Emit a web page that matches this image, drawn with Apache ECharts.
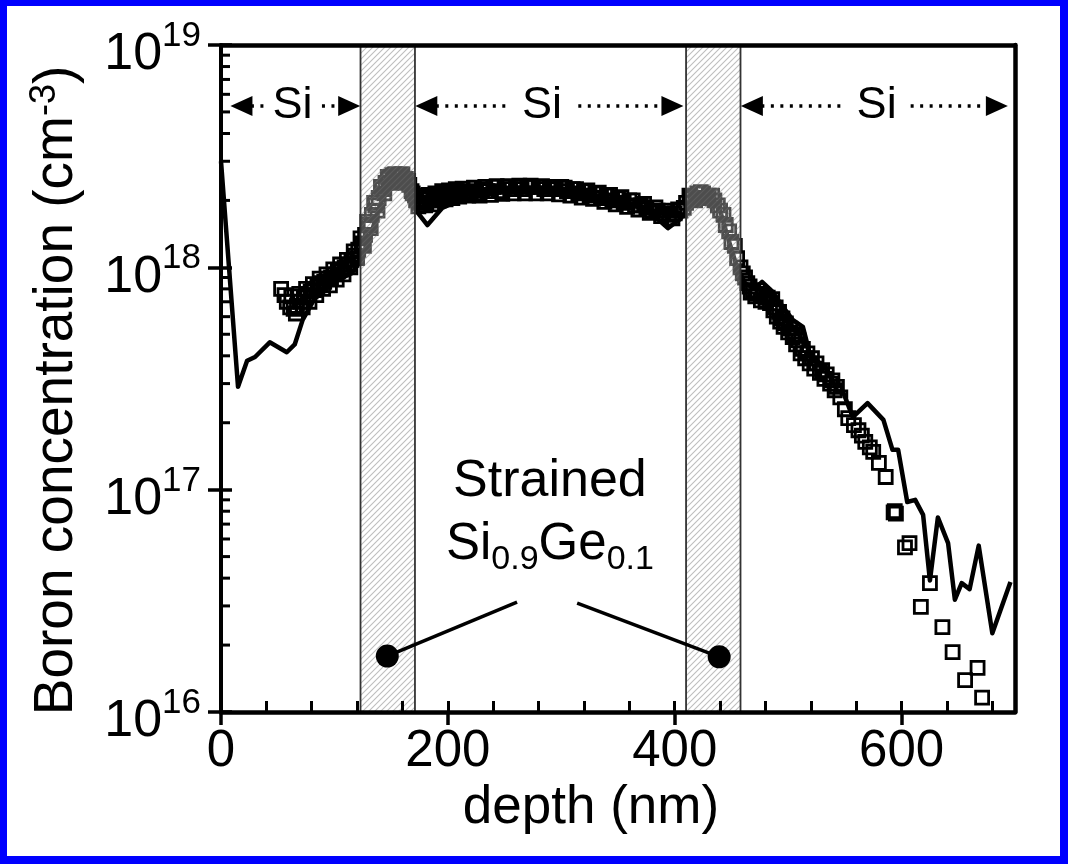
<!DOCTYPE html>
<html>
<head>
<meta charset="utf-8">
<script src="https://cdn.jsdelivr.net/npm/echarts@6/dist/echarts.min.js"></script>
<style>
html,body{margin:0;padding:0;width:1068px;height:864px;background:#0000ff;overflow:hidden;}
#paper{position:absolute;left:7px;top:6px;width:1053px;height:850px;background:#fff;}
#chart{position:absolute;left:0;top:0;width:1068px;height:864px;}
</style>
</head>
<body>
<div id="paper"></div>
<div id="chart"></div>
<script>
// ---------- data ----------
const xMajorTicks = [0, 200, 400, 600];
const xAllTicks = [0,40,80,120,160,200,240,280,320,360,400,440,480,520,560,600,640,680];
const yMinorTicks = [2e16,3e16,4e16,5e16,6e16,7e16,8e16,9e16,
                     2e17,3e17,4e17,5e17,6e17,7e17,8e17,9e17,
                     2e18,3e18,4e18,5e18,6e18,7e18,8e18,9e18];

// solid line (simulation)
const lineDepth = [0,15,23,30,43,58,65,72,83,98,115,122,130,140,150,158,165,172,182,195,210,230,250,270,290,310,330,350,370,385,394,405,415,425,432,440,448,455,462,470,477,486,493,504,513,519,534,543,549,557,570,584,592,597,605,612,619,625,632,641,647,653,660,668,680,696];
const lineConc  = [3.0e18,2.9e17,3.8e17,3.95e17,4.6e17,4.15e17,4.5e17,5.8e17,7.3e17,8.5e17,9.4e17,1.05e18,1.3e18,1.9e18,2.4e18,2.55e18,2.4e18,1.8e18,1.55e18,1.85e18,2.0e18,2.1e18,2.2e18,2.25e18,2.25e18,2.2e18,2.1e18,2.0e18,1.85e18,1.65e18,1.5e18,1.65e18,1.95e18,2.1e18,2.1e18,1.8e18,1.3e18,1.0e18,8.5e17,8.0e17,8.6e17,7.8e17,6.9e17,5.8e17,5.4e17,4.1e17,3.45e17,2.8e17,2.7e17,2.12e17,2.45e17,2.06e17,1.51e17,1.51e17,8.8e16,9.0e16,7.7e16,3.9e16,7.5e16,5.75e16,3.2e16,3.8e16,3.57e16,5.6e16,2.26e16,3.84e16];

// open squares (measured), first pass
const sqDepth = [53,56,58,61,64,67,70,73,76,79,82,85,88,91,94,97,100,103,106,109,112,115,118,121,124,127,130,133,136,139,142,145,148,151,154,157,160,163,166,169,172,175,178,181,184,187,190,193,196,199,202,205,208,211,215,220,225,230,235,240,245,250,255,260,265,270,275,280,285,290,295,300,305,310,315,320,325,330,335,340,345,350,355,360,365,370,375,380,385,390,395,400,405,410,415,420,425,430,435,440,445,450,455,460,464,467,471,476,480,484,487,490,493,496,500,504,507,511,515,519,523,528,532,537,541,546,550,553,558,562,565,568,572,575,580,586,593,594,595,603,607,617,625,636,645,656,667,671];
const sqConc  = [8.0e17,7.5e17,7.0e17,6.6e17,6.5e17,6.7e17,7.0e17,7.3e17,7.5e17,7.8e17,7.9e17,8.2e17,8.5e17,8.6e17,8.9e17,9.0e17,9.3e17,9.6e17,9.8e17,1.0e18,1.03e18,1.08e18,1.13e18,1.2e18,1.28e18,1.4e18,1.55e18,1.72e18,1.9e18,2.05e18,2.25e18,2.4e18,2.5e18,2.6e18,2.62e18,2.55e18,2.62e18,2.5e18,2.35e18,2.15e18,2.0e18,1.95e18,2.02e18,1.95e18,2.05e18,2.0e18,2.1e18,2.05e18,2.15e18,2.1e18,2.15e18,2.1e18,2.2e18,2.15e18,2.15e18,2.2e18,2.15e18,2.25e18,2.2e18,2.3e18,2.2e18,2.3e18,2.25e18,2.3e18,2.25e18,2.3e18,2.3e18,2.3e18,2.25e18,2.3e18,2.25e18,2.3e18,2.2e18,2.25e18,2.15e18,2.2e18,2.1e18,2.15e18,2.05e18,2.1e18,2.0e18,2.05e18,1.95e18,2.0e18,1.9e18,1.9e18,1.85e18,1.8e18,1.8e18,1.75e18,1.72e18,1.75e18,1.8e18,1.95e18,2.05e18,2.15e18,2.15e18,2.1e18,2.0e18,1.8e18,1.55e18,1.3e18,1.1e18,9.4e17,8.5e17,7.7e17,7.4e17,7.1e17,7.0e17,6.9e17,6.4e17,6.0e17,5.7e17,5.4e17,5.1e17,4.86e17,4.5e17,4.1e17,3.9e17,3.7e17,3.5e17,3.35e17,3.15e17,3.0e17,2.8e17,2.6e17,2.3e17,2.1e17,1.95e17,1.85e17,1.75e17,1.64e17,1.55e17,1.48e17,1.32e17,1.14e17,7.9e16,8.0e16,7.8e16,5.5e16,5.75e16,2.97e16,3.8e16,2.41e16,1.86e16,1.39e16,1.58e16,1.16e16];

// open squares (measured), interleaved points of the dense part
const sq2Depth = [62,66,69,72,75,78,81,84,87,90,93,96,99,102,105,108,111,114,117,120,123,126,129,132,135,138,141,144,147,150,153,156,159,162,165,168,171,174,177,180,183,186,189,192,195,198,201,204,207,210,213,218,223,228,233,238,243,248,253,258,263,268,273,278,283,288,293,298,303,308,313,318,323,328,333,338,343,348,353,358,363,368,373,378,383,388,393,398,403,408,413,418,423,428,433,438,443,448,453,458,462,466,469,473,478,482,486,489,492,495,498,502,506,509,513,517,521,525,530,534,539,543];
const sq2Conc  = [7.4e17,6.2e17,7.6e17,6.6e17,8.0e17,7.0e17,8.4e17,7.5e17,8.9e17,8.0e17,9.3e17,8.3e17,9.8e17,8.8e17,1.03e18,9.3e17,1.08e18,1.0e18,1.18e18,1.1e18,1.35e18,1.25e18,1.6e18,1.5e18,1.95e18,1.8e18,2.3e18,2.15e18,2.55e18,2.4e18,2.62e18,2.45e18,2.62e18,2.4e18,2.45e18,2.2e18,2.1e18,1.88e18,2.08e18,1.9e18,2.12e18,1.92e18,2.15e18,2.0e18,2.2e18,2.02e18,2.22e18,2.05e18,2.25e18,2.08e18,2.26e18,2.1e18,2.28e18,2.1e18,2.3e18,2.12e18,2.32e18,2.14e18,2.32e18,2.15e18,2.33e18,2.15e18,2.33e18,2.15e18,2.32e18,2.15e18,2.3e18,2.13e18,2.28e18,2.1e18,2.25e18,2.06e18,2.22e18,2.03e18,2.17e18,1.97e18,2.12e18,1.92e18,2.07e18,1.87e18,2.0e18,1.82e18,1.93e18,1.76e18,1.86e18,1.7e18,1.8e18,1.66e18,1.82e18,1.85e18,2.1e18,2.0e18,2.18e18,2.05e18,2.1e18,1.9e18,1.72e18,1.45e18,1.25e18,1.0e18,9.0e17,8.2e17,7.9e17,7.6e17,7.5e17,7.3e17,7.2e17,6.6e17,6.3e17,5.9e17,5.6e17,5.3e17,5.0e17,4.7e17,4.3e17,4.1e17,3.9e17,3.7e17,3.45e17,3.3e17,3.1e17,2.9e17];

// strained SiGe layers (depth ranges, nm)
const bandStart = [123, 410];
const bandEnd   = [171, 458];

// ---------- annotation geometry (data coords) ----------
const siY = 5.32e18;
const siSegments = [[18,38],[89,113],[181,253],[315,398],[468,550],[608,684]];
const siLabelX = [63, 283, 578];
const annText = [290, 7.81e16];
const annLines = [[[261, 3.12e16],[146.6, 1.784e16]], [[314, 3.09e16],[439.2, 1.77e16]]];

// ---------- styling helpers ----------
const FONT = "'Liberation Sans', Arial, Helvetica, sans-serif";
function makeHatch() {
  const c = document.createElement('canvas');
  c.width = 6; c.height = 6;
  const g = c.getContext('2d');
  g.fillStyle = 'rgba(255,255,255,0.30)';
  g.fillRect(0, 0, 6, 6);
  g.strokeStyle = 'rgba(110,110,110,0.45)';
  g.lineWidth = 1.1;
  g.beginPath();
  g.moveTo(0, 6); g.lineTo(6, 0);
  g.moveTo(-3, 3); g.lineTo(3, -3);
  g.moveTo(3, 9); g.lineTo(9, 3);
  g.stroke();
  return c;
}
const hatch = makeHatch();

const xMin = 0, xMax = 700, yMin = 1e16, yMax = 1e19;
const chart = echarts.init(document.getElementById('chart'), null, {renderer: 'canvas'});

const baseX = {type: 'value', min: xMin, max: xMax, gridIndex: 0};
const baseY = {type: 'log', logBase: 10, min: yMin, max: yMax, gridIndex: 0};
const squareStyle = {color: 'rgba(0,0,0,0)', borderColor: '#000', borderWidth: 2.8, opacity: 1};

const option = {
  animation: false,
  backgroundColor: 'transparent',
  textStyle: {fontFamily: FONT},
  grid: {left: 221, top: 45, width: 794, height: 667, containLabel: false},
  xAxis: [
    Object.assign({}, baseX, {
      position: 'bottom', z: 10,
      axisLine: {show: true, lineStyle: {color: '#000', width: 4.5}},
      axisTick: {show: true, inside: false, length: 13, lineStyle: {color: '#000', width: 3.5}, customValues: xMajorTicks},
      axisLabel: {show: true, customValues: xMajorTicks, margin: 14, fontSize: 51, color: '#000', fontFamily: FONT},
      splitLine: {show: false},
      name: 'depth (nm)', nameLocation: 'middle', nameGap: 70,
      nameTextStyle: {fontSize: 53, color: '#000', fontFamily: FONT, padding: [0, 54, 0, 0]}
    }),
    Object.assign({}, baseX, {
      position: 'bottom', z: 10,
      axisLine: {show: false},
      axisTick: {show: true, inside: true, length: 11, lineStyle: {color: '#000', width: 3}, customValues: xAllTicks},
      axisLabel: {show: false}, splitLine: {show: false}
    }),
    Object.assign({}, baseX, {
      position: 'top', z: 10,
      axisLine: {show: true, onZero: false, lineStyle: {color: '#000', width: 4.5}},
      axisTick: {show: false}, axisLabel: {show: false}, splitLine: {show: false}
    })
  ],
  yAxis: [
    Object.assign({}, baseY, {
      position: 'left', z: 10,
      axisLine: {show: true, lineStyle: {color: '#000', width: 4}},
      axisTick: {show: true, inside: false, length: 13, lineStyle: {color: '#000', width: 3.5}},
      axisLabel: {
        show: true, margin: 20, color: '#000', fontFamily: FONT,
        padding: [20, 0, 0, 0],
        formatter: v => '{b|10}{s|' + Math.round(Math.log10(v)) + '}',
        rich: {
          b: {fontSize: 52, lineHeight: 72, color: '#000', fontFamily: FONT},
          s: {fontSize: 35, lineHeight: 52, verticalAlign: 'top', color: '#000', fontFamily: FONT}
        }
      },
      splitLine: {show: false},
      name: '{n|Boron concentration (cm}{s|-3}{n|)}', nameLocation: 'middle', nameGap: 134,
      nameTextStyle: {
        color: '#000', fontFamily: FONT, padding: [0, 24, 0, 0],
        rich: {
          n: {fontSize: 55, lineHeight: 60, color: '#000', fontFamily: FONT},
          s: {fontSize: 36, lineHeight: 36, verticalAlign: 'top', color: '#000', fontFamily: FONT}
        }
      }
    }),
    Object.assign({}, baseY, {
      position: 'left', z: 10,
      axisLine: {show: false},
      axisTick: {show: true, inside: true, length: 11, lineStyle: {color: '#000', width: 3.5}},
      axisLabel: {show: false}, splitLine: {show: false}
    }),
    Object.assign({}, baseY, {
      position: 'right', z: 10,
      axisLine: {show: true, onZero: false, lineStyle: {color: '#000', width: 4.5}},
      axisTick: {show: false}, axisLabel: {show: false}, splitLine: {show: false}
    })
  ],
  series: [
    {
      name: 'SIMS', type: 'scatter', xAxisIndex: 0, yAxisIndex: 0, z: 3, silent: true,
      symbol: 'rect', symbolSize: 13, itemStyle: squareStyle,
      data: sqDepth.map((d, i) => [d, sqConc[i]])
    },
    {
      name: 'SIMS2', type: 'scatter', xAxisIndex: 0, yAxisIndex: 0, z: 3, silent: true,
      symbol: 'rect', symbolSize: 13, itemStyle: squareStyle,
      data: sq2Depth.map((d, i) => [d, sq2Conc[i]])
    },
    {
      name: 'simulation', type: 'line', xAxisIndex: 0, yAxisIndex: 0, z: 3, silent: true,
      showSymbol: false, symbol: 'none',
      lineStyle: {color: '#000', width: 4.5, join: 'round'},
      data: lineDepth.map((d, i) => [d, lineConc[i]])
    },
    {
      name: 'bands', type: 'custom', xAxisIndex: 0, yAxisIndex: 0, z: 4, silent: true,
      encode: {x: [0, 1], y: [2, 3]},
      data: bandStart.map((s, i) => [s, bandEnd[i], yMin, yMax]),
      renderItem: function (params, api) {
        const p0 = api.coord([api.value(0), api.value(3)]);
        const p1 = api.coord([api.value(1), api.value(2)]);
        return {
          type: 'rect',
          shape: {x: p0[0], y: p0[1], width: p1[0] - p0[0], height: p1[1] - p0[1]},
          style: {fill: {image: hatch, repeat: 'repeat'}, stroke: '#333', lineWidth: 1.8}
        };
      }
    },
    {
      name: 'yMinorTicks', type: 'custom', xAxisIndex: 0, yAxisIndex: 0, z: 11, silent: true,
      clip: false, encode: {x: 0, y: 1},
      data: yMinorTicks.map(v => [xMin, v]),
      renderItem: function (params, api) {
        const p = api.coord([api.value(0), api.value(1)]);
        return {type: 'line', shape: {x1: p[0], y1: p[1], x2: p[0] + 9, y2: p[1]},
                style: {stroke: '#000', lineWidth: 3}};
      }
    },
    {
      name: 'siArrows', type: 'line', xAxisIndex: 0, yAxisIndex: 0, z: 6, silent: true,
      data: [],
      markLine: {
        silent: true, animation: false, precision: 10,
        label: {show: false},
        lineStyle: {color: '#000', width: 3.5, type: [3, 6.5]},
        symbolSize: [20, 22],
        data: siSegments.map((s, i) => [
          {coord: [s[0], siY], symbol: i % 2 === 0 ? 'triangle' : 'none'},
          {coord: [s[1], siY], symbol: i % 2 === 1 ? 'triangle' : 'none'}
        ])
      },
      markPoint: {
        silent: true, animation: false,
        symbol: 'circle', symbolSize: 0,
        label: {show: true, position: 'inside', color: '#000', fontSize: 45, fontFamily: FONT,
                formatter: 'Si'},
        data: siLabelX.map(x => ({coord: [x, siY], value: 'Si'}))
      }
    },
    {
      name: 'annotation', type: 'line', xAxisIndex: 0, yAxisIndex: 0, z: 6, silent: true,
      data: [],
      markLine: {
        silent: true, animation: false, precision: 10,
        label: {show: false},
        symbol: ['none', 'none'],
        lineStyle: {color: '#000', width: 3.5, type: 'solid'},
        data: annLines.map(l => [{coord: l[0]}, {coord: l[1]}])
      },
      markPoint: {
        silent: true, animation: false,
        data: [
          {coord: annText, symbol: 'circle', symbolSize: 0,
           label: {show: true, position: 'inside', color: '#000', fontFamily: FONT,
                   formatter: '{a|Strained}\n{b|Si}{u|0.9}{b|Ge}{u|0.1}',
                   rich: {
                     a: {fontSize: 52, lineHeight: 63, color: '#000', fontFamily: FONT},
                     b: {fontSize: 51, lineHeight: 63, color: '#000', fontFamily: FONT},
                     u: {fontSize: 34, lineHeight: 34, verticalAlign: 'bottom', color: '#000', fontFamily: FONT}
                   }}},
          {coord: annLines[0][1], symbol: 'circle', symbolSize: 23, itemStyle: {color: '#000'}, label: {show: false}},
          {coord: annLines[1][1], symbol: 'circle', symbolSize: 23, itemStyle: {color: '#000'}, label: {show: false}}
        ]
      }
    }
  ]
};
chart.setOption(option);
</script>
</body>
</html>
